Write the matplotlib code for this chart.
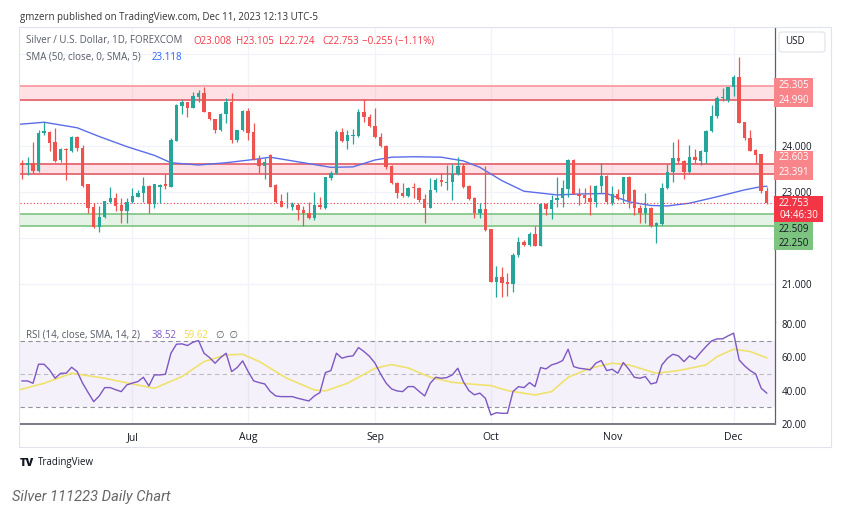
import numpy as np
import pandas as pd
import matplotlib
matplotlib.use('Agg')
import matplotlib.pyplot as plt
from matplotlib.patches import Rectangle, FancyBboxPatch

plt.rcParams['font.family'] = ['Open Sans', 'DejaVu Sans']

# daily bars, Jun 5 - Dec 11 2023 (weekdays)
dates = pd.bdate_range('2023-06-05', '2023-12-11')

opens = [23.62, 23.58, 23.62, 23.44, 24.27, 24.30, 24.07, 23.68, 23.92, 23.89,
         24.20, 23.96, 23.16, 22.67, 22.24, 22.44, 22.78, 22.87, 22.71, 22.57,
         22.77, 22.89, 22.98, 23.12, 22.73, 23.10, 23.16, 23.11, 24.11, 24.87,
         24.96, 24.83, 25.05, 25.15, 24.74, 24.57, 24.34, 24.70, 24.94, 24.12,
         24.34, 24.75, 24.30, 23.72, 23.56, 23.80, 23.15, 22.80, 22.70, 22.67,
         22.71, 22.60, 22.53, 22.42, 22.71, 22.64, 23.30, 23.40, 24.30, 24.11,
         24.22, 24.21, 24.74, 24.63, 24.43, 24.18, 24.00, 23.56, 23.18, 22.98,
         22.91, 23.11, 23.07, 22.85, 22.65, 23.04, 23.25, 23.19, 23.22, 23.38,
         23.56, 23.12, 22.86, 22.54, 22.63, 22.18, 21.04, 21.15, 21.03, 20.99,
         21.62, 21.91, 21.84, 22.08, 21.83, 22.73, 22.62, 22.82, 22.86, 23.05,
         23.69, 22.96, 22.93, 22.87, 22.78, 23.12, 23.34, 22.75, 22.95, 22.96,
         23.31, 23.04, 22.64, 22.54, 22.64, 22.25, 22.30, 23.09, 23.43, 23.73,
         23.67, 23.43, 23.76, 23.66, 23.87, 24.32, 24.65, 25.03, 25.00, 25.27,
         25.49, 24.52, 24.16, 23.90, 23.81, 23.008]
highs = [23.69, 23.76, 24.07, 24.34, 24.52, 24.31, 24.39, 23.94, 23.94, 24.21,
         24.21, 24.02, 23.16, 22.75, 22.69, 22.80, 23.11, 22.97, 22.86, 22.86,
         23.07, 23.04, 23.31, 23.15, 23.16, 23.17, 23.38, 24.16, 24.90, 24.99,
         24.96, 25.17, 25.21, 25.27, 24.74, 24.57, 24.72, 25.03, 25.14, 24.34,
         24.78, 24.81, 24.49, 23.80, 23.73, 23.82, 23.16, 22.96, 22.99, 22.78,
         22.76, 22.69, 22.78, 23.00, 22.89, 23.33, 23.44, 24.34, 24.38, 24.34,
         24.36, 24.79, 25.01, 24.70, 24.83, 24.28, 24.02, 23.58, 23.20, 23.18,
         23.11, 23.18, 23.11, 22.96, 23.29, 23.29, 23.40, 23.59, 23.60, 23.76,
         23.62, 23.14, 22.88, 22.76, 23.56, 22.18, 21.39, 21.37, 21.24, 21.66,
         22.02, 21.95, 22.13, 22.26, 22.75, 22.75, 22.93, 23.33, 23.25, 23.70,
         23.70, 23.09, 23.09, 23.15, 23.15, 23.62, 23.36, 23.12, 23.05, 23.33,
         23.34, 23.05, 22.71, 22.98, 22.67, 22.35, 23.18, 23.60, 24.09, 24.14,
         23.69, 24.01, 23.93, 23.91, 24.34, 24.88, 25.07, 25.25, 25.28, 25.54,
         25.92, 24.52, 24.34, 23.92, 23.83, 23.105]
lows = [23.27, 23.36, 23.40, 23.43, 24.23, 23.89, 23.65, 23.65, 23.25, 23.87,
        23.89, 23.11, 22.53, 22.20, 22.13, 22.42, 22.76, 22.57, 22.31, 22.31,
        22.75, 22.88, 22.78, 22.54, 22.64, 22.76, 23.05, 23.11, 24.11, 24.70,
        24.62, 24.81, 24.96, 24.73, 24.56, 24.27, 24.31, 24.49, 24.05, 24.09,
        24.33, 24.12, 23.69, 23.40, 23.27, 23.10, 22.76, 22.66, 22.64, 22.60,
        22.38, 22.25, 22.40, 22.38, 22.62, 22.62, 23.25, 23.38, 24.09, 23.92,
        24.04, 24.20, 24.52, 24.41, 24.16, 23.98, 23.49, 23.17, 22.86, 22.89,
        22.89, 22.86, 22.78, 22.31, 22.64, 23.00, 23.12, 23.04, 22.82, 23.36,
        23.07, 22.82, 22.42, 22.42, 22.15, 21.03, 20.72, 20.72, 20.73, 20.83,
        21.59, 21.82, 21.83, 21.81, 21.82, 22.49, 22.40, 22.67, 22.67, 22.89,
        22.95, 22.71, 22.75, 22.49, 22.67, 22.98, 22.73, 22.71, 22.83, 22.75,
        22.64, 22.49, 22.33, 22.33, 22.24, 21.89, 22.28, 23.05, 23.22, 23.63,
        23.27, 23.41, 23.62, 23.58, 23.62, 24.30, 24.60, 24.98, 24.96, 25.08,
        24.49, 24.12, 23.88, 23.62, 22.98, 22.724]
closes = [23.57, 23.62, 23.44, 24.27, 24.31, 24.05, 23.67, 23.92, 23.90, 24.20,
          23.94, 23.12, 22.65, 22.24, 22.46, 22.80, 22.87, 22.69, 22.57, 22.78,
          22.91, 22.98, 23.12, 22.73, 23.16, 23.15, 23.12, 24.12, 24.88, 24.96,
          24.83, 25.07, 25.15, 24.74, 24.57, 24.34, 24.70, 24.94, 24.12, 24.34,
          24.75, 24.27, 23.70, 23.56, 23.65, 23.11, 22.78, 22.67, 22.72, 22.73,
          22.60, 22.53, 22.42, 22.71, 22.66, 23.33, 23.40, 24.30, 24.10, 24.23,
          24.24, 24.74, 24.62, 24.43, 24.18, 24.00, 23.54, 23.18, 22.98, 22.91,
          23.09, 23.07, 22.83, 22.65, 23.04, 23.25, 23.20, 23.22, 23.38, 23.56,
          23.11, 22.84, 22.54, 22.63, 22.17, 21.04, 21.15, 21.01, 20.99, 21.62,
          21.91, 21.84, 22.08, 21.83, 22.73, 22.62, 22.82, 22.86, 23.07, 23.69,
          22.96, 22.91, 22.86, 22.78, 23.12, 23.34, 22.78, 22.96, 22.84, 23.31,
          22.80, 22.64, 22.54, 22.64, 22.25, 22.31, 23.09, 23.43, 23.73, 23.67,
          23.43, 23.76, 23.68, 23.88, 24.32, 24.65, 25.03, 25.05, 25.27, 25.49,
          24.50, 24.16, 23.89, 23.80, 23.008, 22.753]

# SMA(50) at sample bars
sma_idx = [-1, 4, 10, 14, 19, 24, 27, 32, 37, 42, 45, 50, 56, 60, 64, 67, 71,
           76, 80, 83, 87, 91, 94, 97, 101, 106, 110, 114, 117, 121, 126, 131,
           134, 135]
sma_val = [24.46, 24.51, 24.39, 24.20, 23.98, 23.79, 23.63, 23.58, 23.63, 23.70,
           23.75, 23.65, 23.53, 23.54, 23.69, 23.75, 23.76, 23.75, 23.67, 23.53,
           23.24, 23.01, 22.97, 22.93, 22.95, 22.96, 22.78, 22.70, 22.69, 22.75,
           22.89, 23.04, 23.11, 23.118]

# RSI(14) per bar
rsi = [45.8, 45.8, 44.4, 55.8, 55.8, 52.4, 47.4, 50.4, 50.4, 54.0,
       51.4, 44.4, 38.8, 33.4, 36.8, 41.8, 41.8, 40.5, 39.4, 43.4,
       44.5, 45.4, 48.0, 42.8, 49.4, 49.4, 49.8, 62.4, 67.8, 68.0,
       67.0, 69.0, 70.0, 62.4, 59.8, 56.4, 59.8, 62.4, 51.4, 53.8,
       57.8, 51.4, 45.8, 44.8, 44.0, 39.5, 36.8, 36.4, 36.4, 36.4,
       35.4, 34.6, 33.8, 36.8, 38.8, 50.8, 52.0, 62.4, 59.4, 60.4,
       60.8, 65.8, 63.4, 60.5, 56.4, 50.0, 44.5, 41.0, 39.8, 39.4,
       42.4, 42.4, 39.5, 36.8, 44.4, 48.0, 47.4, 47.8, 49.4, 53.4,
       45.4, 40.0, 37.5, 38.5, 35.4, 25.4, 26.8, 26.4, 26.4, 39.4,
       42.4, 41.8, 44.8, 42.4, 53.8, 53.0, 55.4, 56.4, 58.0, 64.8,
       54.4, 53.4, 53.0, 52.4, 56.4, 58.0, 52.0, 52.8, 50.4, 56.8,
       52.8, 48.0, 47.4, 48.4, 44.0, 44.8, 55.4, 59.4, 61.8, 60.8,
       57.4, 60.8, 58.8, 62.8, 66.4, 69.8, 71.0, 71.0, 72.8, 74.4,
       58.4, 54.8, 52.0, 50.0, 41.4, 38.52]

# RSI-based MA read at sample bars
rsima_idx = [-1, 4, 9, 15, 20, 24, 29, 33, 37, 40, 43, 48, 53, 55, 59, 64, 67,
             70, 74, 78, 81, 85, 88, 93, 96, 99, 103, 107, 110, 115, 119, 124,
             126, 129, 132, 135]
rsima_val = [40.0, 44.4, 50.4, 47.4, 44.0, 41.4, 48.4, 57.4, 61.4, 61.8, 57.4,
             47.4, 40.4, 39.8, 44.4, 53.4, 55.6, 53.6, 48.0, 45.0, 44.0, 43.0,
             40.0, 37.4, 39.4, 48.0, 53.4, 56.4, 55.4, 50.4, 52.0, 55.4, 60.4,
             64.8, 63.4, 59.62]

# drawn zones (top, bottom)
zone_res_hi = (25.305, 24.990)
zone_res_lo = (23.603, 23.391)
zone_sup = (22.509, 22.250)

price_ticks = [21, 23, 24]
grid_prices = [21, 22, 23, 24, 25, 26]
months = ['Jul', 'Aug', 'Sep', 'Oct', 'Nov', 'Dec']

W, H = 846, 516


def box(x0, y0, x1, y1):
    return [x0 / W, 1 - y1 / H, (x1 - x0) / W, (y1 - y0) / H]


fig = plt.figure(figsize=(W / 100, H / 100), dpi=100)
fig.patch.set_facecolor('white')

ax = fig.add_axes(box(20, 28, 775, 322))
axr = fig.add_axes(box(20, 322, 775, 424), sharex=ax)

x = np.arange(len(dates))
o, h, l, c = map(np.array, (opens, highs, lows, closes))
up = c >= o
GREEN, RED = '#26a69a', '#ef5350'
cols = np.where(up, GREEN, RED)

month_idx = [int(np.argmax((dates.month == m) & (dates.year == 2023)))
             for m in [7, 8, 9, 10, 11, 12]]

# grid
for m in month_idx:
    ax.axvline(m, color='#f0f3fa', lw=0.9, zorder=0)
    axr.axvline(m, color='#f0f3fa', lw=0.9, zorder=0)
for p in grid_prices:
    ax.axhline(p, color='#f0f3fa', lw=0.9, zorder=0)

# zones
ax.axhspan(zone_res_hi[1], zone_res_hi[0], color='#f7525f', alpha=0.17, lw=0, zorder=1)
ax.axhline(zone_res_hi[0], color='#f7a3a8', lw=1.4, zorder=1)
ax.axhline(zone_res_hi[1], color='#e8707a', lw=1.4, zorder=1)
ax.axhspan(zone_res_lo[1], zone_res_lo[0], color='#f7525f', alpha=0.17, lw=0, zorder=1)
ax.axhline(zone_res_lo[0], color='#e8707a', lw=1.4, zorder=1)
ax.axhline(zone_res_lo[1], color='#e8707a', lw=1.4, zorder=1)
ax.axhspan(zone_sup[1], zone_sup[0], color='#4caf50', alpha=0.14, lw=0, zorder=1)
ax.axhline(zone_sup[0], color='#7cc47f', lw=1.2, zorder=1)
ax.axhline(zone_sup[1], color='#7cc47f', lw=1.2, zorder=1)

# candles
ax.vlines(x, l, h, colors=cols, lw=0.9, zorder=3)
body = np.maximum(np.abs(c - o), 0.012)
ax.bar(x, body, bottom=np.minimum(o, c), width=0.62, color=cols, lw=0, zorder=4)

# SMA
ax.plot(sma_idx, sma_val, color='#5b6ee8', lw=1.0, zorder=2)

# last price line
ax.axhline(c[-1], color='#f23645', lw=0.8, ls=(0, (1, 2)), zorder=2)

ax.set_xlim(-0.36, 136.5)
ax.set_ylim(20.167, 26.559)
ax.yaxis.tick_right()
ax.set_yticks(price_ticks)
ax.set_yticklabels(['%.3f' % p for p in price_ticks])
ax.tick_params(axis='y', length=0, pad=5, labelsize=7, colors='#131722')
ax.tick_params(axis='x', length=0, labelbottom=False)
for s in ['top', 'left']:
    ax.spines[s].set_visible(False)
ax.spines['bottom'].set_color('#e0e3eb')
ax.spines['right'].set_color('#5d606b')
ax.spines['right'].set_linewidth(0.9)

# RSI pane
axr.axhspan(30, 70, color='#7e57c2', alpha=0.08, lw=0, zorder=0)
for lv, a in [(70, 0.8), (50, 0.45), (30, 0.8)]:
    axr.axhline(lv, color='#787b86', lw=0.8, ls=(0, (4, 3)), alpha=a, zorder=1)
axr.plot(x, rsi, color='#7e57c2', lw=1.0, zorder=3)
axr.plot(rsima_idx, rsima_val, color='#f0e26e', lw=1.2, zorder=2)
axr.set_ylim(20.1, 81.1)
axr.yaxis.tick_right()
axr.set_yticks([20, 40, 60, 80])
axr.set_yticklabels(['20.00', '40.00', '60.00', '80.00'])
axr.tick_params(axis='y', length=0, pad=5, labelsize=7, colors='#131722')
axr.set_xticks(month_idx)
axr.set_xticklabels(months)
axr.tick_params(axis='x', length=0, pad=6, labelsize=7.5, colors='#131722')
for s in ['top', 'left']:
    axr.spines[s].set_visible(False)
axr.spines['right'].set_color('#5d606b')
axr.spines['right'].set_linewidth(0.9)
axr.spines['bottom'].set_color('#787b86')
axr.spines['bottom'].set_linewidth(1.4)

# outer frame
fig.patches.append(Rectangle((19 / W, 1 - 447 / H), 812 / W, 420 / H,
                             transform=fig.transFigure, fill=False,
                             edgecolor='#e0e3eb', lw=0.8))


def fy(py):
    return 1 - py / H


def tag(x0, y0, x1, y1, color):
    fig.patches.append(Rectangle((x0 / W, fy(y1)), (x1 - x0) / W, (y1 - y0) / H,
                                 transform=fig.transFigure, color=color, lw=0,
                                 zorder=5))


def ptxt(px, py, s, color, **kw):
    fig.text(px / W, fy(py), s, color=color, va='center', ha='left',
             fontsize=7, zorder=6, **kw)


# price tags on the right axis
tag(774, 78, 813, 107, '#f7858a')
ptxt(779, 86, '%.3f' % zone_res_hi[0], 'white')
ptxt(779, 100.5, '%.3f' % zone_res_hi[1], 'white')
tag(774, 151, 813, 180, '#f7858a')
ptxt(779, 158, '%.3f' % zone_res_lo[0], 'white')
ptxt(779, 173, '%.3f' % zone_res_lo[1], 'white')
tag(774, 196, 823, 222, '#f23645')
ptxt(779, 203, '%.3f' % closes[-1], 'white')
ptxt(779, 215, '04:46:30', 'white')
tag(774, 222, 813, 250, '#7cc47f')
ptxt(779, 229.5, '%.3f' % zone_sup[0], '#131722')
ptxt(779, 243, '%.3f' % zone_sup[1], '#131722')

# USD button
fig.patches.append(FancyBboxPatch((779 / W, fy(52)), 46 / W, 20 / H,
                                  boxstyle='round,pad=0,rounding_size=0.004',
                                  transform=fig.transFigure, facecolor='white',
                                  edgecolor='#e0e3eb', lw=0.8, zorder=5))
ptxt(785, 42, 'USD', '#131722')

# legends
ptxt(20, 17, 'gmzern published on TradingView.com, Dec 11, 2023 12:13 UTC-5', '#333333')
ptxt(26, 41, 'Silver / U.S. Dollar, 1D, FOREXCOM', '#555a66')
ptxt(193, 41, 'O%.3f' % opens[-1], '#f23645')
ptxt(236, 41, 'H%.3f' % highs[-1], '#f23645')
ptxt(279, 41, 'L%.3f' % lows[-1], '#f23645')
ptxt(322, 41, 'C%.3f' % closes[-1], '#f23645')
chg = closes[-1] - closes[-2]
ptxt(362, 41, '\u2212%.3f (\u2212%.2f%%)' % (abs(chg), abs(chg) / closes[-2] * 100), '#f23645')
ptxt(26, 57, 'SMA (50, close, 0, SMA, 5)', '#555a66')
ptxt(152, 57, '%.3f' % sma_val[-1], '#2962ff')
ptxt(26, 335, 'RSI (14, close, SMA, 14, 2)', '#555a66')
ptxt(152, 335, '%.2f' % rsi[-1], '#7e57c2')
ptxt(183, 335, '%.2f' % rsima_val[-1], '#f0d848')
ptxt(216, 335, '\u2205  \u2205', '#555a66')

# footer
fig.text(20 / W, fy(463), 'TV', fontsize=8, fontweight='heavy', color='#131722',
         va='center', ha='left')
ptxt(38, 463, 'TradingView', '#131722')
fig.text(12 / W, fy(497), 'Silver 111223 Daily Chart', fontsize=10.5,
         style='italic', color='#666666', va='center', ha='left',
         family=['Roboto', 'DejaVu Sans'])

fig.savefig('out.png', dpi=100)
